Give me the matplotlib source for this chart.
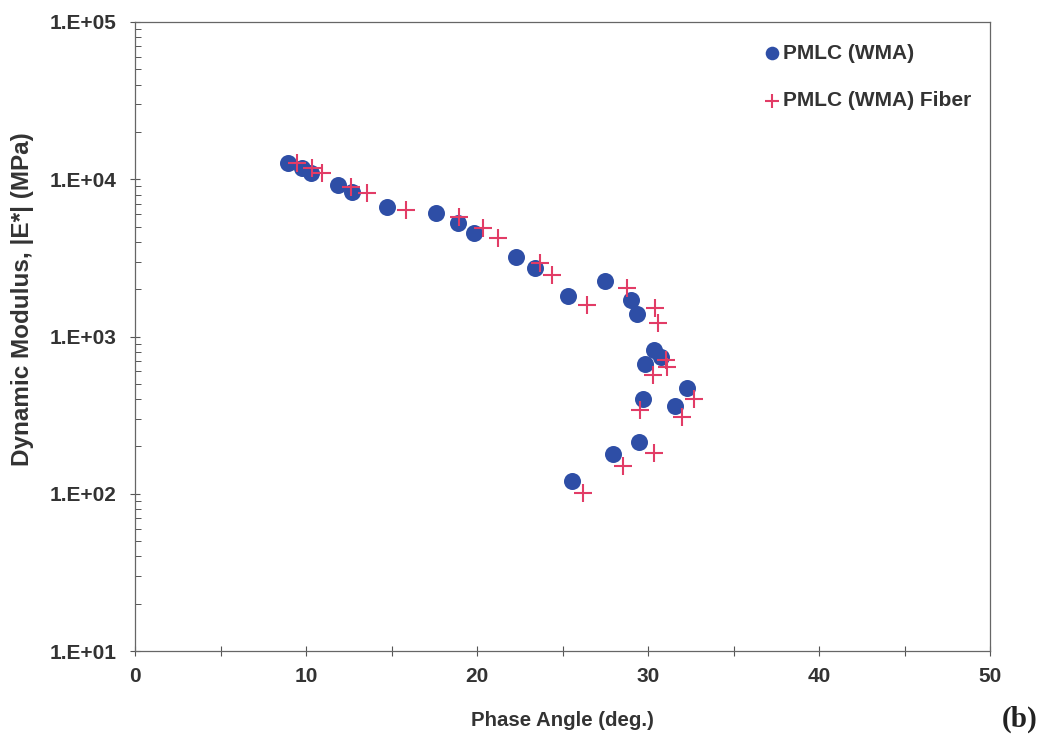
import matplotlib
matplotlib.use("Agg")
import matplotlib.pyplot as plt
from matplotlib.ticker import FuncFormatter, MultipleLocator, LogLocator, NullFormatter
import numpy as np

plt.rcParams['font.family'] = ['Liberation Sans', 'DejaVu Sans']

# PMLC (WMA)
wma_angle = [8.93, 9.74, 10.29, 11.88, 12.66, 14.76, 17.58, 18.89, 19.82, 22.29, 23.40, 25.34,
             27.50, 29.00, 29.35, 30.32, 30.75, 29.81, 32.26, 29.71, 31.60, 29.48, 27.95, 25.54]
wma_modulus = [12740, 11750, 10920, 9180, 8340, 6680, 6120, 5250, 4570, 3210, 2710, 1810,
               2270, 1707, 1383, 820, 745, 668, 469, 399, 361, 214, 179, 121]

# PMLC (WMA) Fiber
fiber_angle = [9.45, 10.33, 10.91, 12.62, 13.59, 15.87, 18.92, 20.34, 21.22, 23.65, 24.39, 26.43,
               28.75, 30.40, 30.55, 31.04, 31.10, 30.26, 32.69, 29.54, 32.01, 30.36, 28.51, 26.18]
fiber_modulus = [12740, 11750, 10920, 8980, 8220, 6370, 5780, 4880, 4210, 2920, 2460, 1590,
                 2030, 1510, 1213, 708, 642, 569, 399, 341, 309, 182, 150, 101]

fig = plt.figure(figsize=(10.59, 7.45), dpi=100)
ax = fig.add_axes([0.1275, 0.126, 0.8075, 0.8445])

ax.scatter(wma_angle, wma_modulus, s=150, color='#2E4EA6', marker='o', linewidths=0,
           label='PMLC (WMA)', zorder=3)
ax.scatter(fiber_angle, fiber_modulus, s=150, color='#E23C66', marker='+', linewidths=1.5,
           label='PMLC (WMA) Fiber', zorder=4)

ax.set_yscale('log')
ax.set_xlim(0, 50)
ax.set_ylim(10, 1e5)

ax.xaxis.set_major_locator(MultipleLocator(10))
ax.xaxis.set_minor_locator(MultipleLocator(5))
ax.yaxis.set_major_locator(LogLocator(base=10, numticks=10))
ax.yaxis.set_minor_locator(LogLocator(base=10, subs=np.arange(2, 10), numticks=10))
ax.yaxis.set_minor_formatter(NullFormatter())
ax.yaxis.set_major_formatter(FuncFormatter(lambda v, p: '1.E+%02d' % int(round(np.log10(v)))))

ax.tick_params(axis='both', which='major', direction='inout', length=7, width=0.8,
               labelsize=15, colors='#555555', labelcolor='#333333')
ax.tick_params(axis='x', which='minor', direction='inout', length=7, width=0.8, colors='#555555')
ax.tick_params(axis='y', which='minor', direction='in', length=4, width=0.7, colors='#555555')
for lab in ax.get_xticklabels() + ax.get_yticklabels():
    lab.set_fontweight('bold')
ax.tick_params(axis='x', which='major', pad=8)
ax.tick_params(axis='y', which='major', pad=10)

for sp in ax.spines.values():
    sp.set_color('#666666')
    sp.set_linewidth(0.9)

ax.set_xlabel('Phase Angle (deg.)', fontsize=14.7, fontweight='bold', color='#333333', labelpad=18)
ax.set_ylabel('Dynamic Modulus, |E*| (MPa)', fontsize=17.5, fontweight='bold', color='#333333')
ax.yaxis.set_label_coords(-0.132, 0.56)
ax.yaxis.label.set_verticalalignment('center')

leg = ax.legend(loc='upper right', bbox_to_anchor=(1.0, 0.995), frameon=False,
                handletextpad=0.1, handlelength=0.9, labelspacing=1.35, markerscale=0.8,
                prop={'weight': 'bold', 'size': 15})
for t in leg.get_texts():
    t.set_color('#333333')

fig.text(0.963, 0.035, '(b)', fontsize=21, fontweight='bold', family='Liberation Serif',
         ha='center', va='center', color='#222222')

fig.savefig('out.png', dpi=100, facecolor='white')
